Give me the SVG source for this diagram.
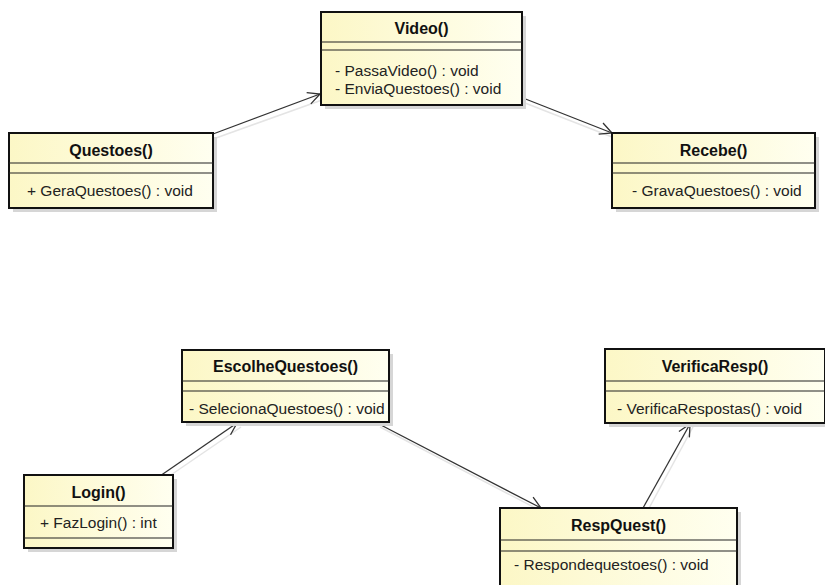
<svg xmlns="http://www.w3.org/2000/svg" width="825" height="585" viewBox="0 0 825 585">
<defs>
<linearGradient id="fill" x1="0" y1="0" x2="1" y2="0">
<stop offset="0" stop-color="#fcf7c6"/>
<stop offset="1" stop-color="#fffff0"/>
</linearGradient>
<marker id="arr" viewBox="0 0 14 14" refX="13" refY="7" markerWidth="14" markerHeight="14" markerUnits="userSpaceOnUse" orient="auto">
<path d="M1,1 L13,7 L1,13" fill="none" stroke="#333" stroke-width="1.3"/>
</marker>
</defs>
<style>
.box{fill:url(#fill);stroke:#111;stroke-width:2}
.sh{fill:#d6d6d6}
.div{stroke:#222;stroke-width:1.2}
.t{font-family:"Liberation Sans",Arial,sans-serif;font-size:16px;font-weight:bold;fill:#111;text-anchor:middle}
.m{font-family:"Liberation Sans",Arial,sans-serif;font-size:15.5px;fill:#222}
.c{stroke:#333;stroke-width:1.3;fill:none;marker-end:url(#arr)}
.cs{stroke:#e4e4e4;stroke-width:1.5;fill:none}
</style>
<rect width="825" height="585" fill="#fff"/>
<g id="connectors">
<line class="cs" x1="216" y1="138" x2="322" y2="100"/>
<line class="cs" x1="525" y1="103" x2="612" y2="137"/>
<line class="cs" x1="165" y1="479" x2="241" y2="427"/>
<line class="cs" x1="380" y1="427" x2="543" y2="512"/>
<line class="cs" x1="648" y1="510" x2="693" y2="427"/>
<line class="c" x1="213" y1="134" x2="320" y2="94"/>
<line class="c" x1="523" y1="98" x2="612" y2="133"/>
<line class="c" x1="160" y1="476" x2="237" y2="423"/>
<line class="c" x1="377" y1="423" x2="541" y2="508"/>
<line class="c" x1="643" y1="508" x2="690" y2="424"/>
</g>
<g id="video">
<rect class="sh" x="325" y="16" width="201" height="93"/>
<rect class="box" x="321" y="12" width="201" height="93"/>
<line class="div" x1="321" y1="42" x2="522" y2="42"/>
<line class="div" x1="321" y1="50" x2="522" y2="50"/>
<text class="t" x="421.5" y="34">Video()</text>
<text class="m" x="335" y="76">- PassaVideo() : void</text>
<text class="m" x="335" y="94">- EnviaQuestoes() : void</text>
</g>
<g id="questoes">
<rect class="sh" x="13" y="137" width="204" height="75"/>
<rect class="box" x="9" y="133" width="204" height="75"/>
<line class="div" x1="9" y1="163" x2="213" y2="163"/>
<line class="div" x1="9" y1="173" x2="213" y2="173"/>
<text class="t" x="111" y="156">Questoes()</text>
<text class="m" x="27" y="196">+ GeraQuestoes() : void</text>
</g>
<g id="recebe">
<rect class="sh" x="616" y="137" width="203" height="75"/>
<rect class="box" x="612" y="133" width="203" height="75"/>
<line class="div" x1="612" y1="163" x2="815" y2="163"/>
<line class="div" x1="612" y1="173" x2="815" y2="173"/>
<text class="t" x="713.5" y="156">Recebe()</text>
<text class="m" x="632" y="196">- GravaQuestoes() : void</text>
</g>
<g id="escolhequestoes">
<rect class="sh" x="186" y="354" width="207" height="72"/>
<rect class="box" x="182" y="350" width="207" height="72"/>
<line class="div" x1="182" y1="381" x2="389" y2="381"/>
<line class="div" x1="182" y1="391" x2="389" y2="391"/>
<text class="t" x="285.5" y="372">EscolheQuestoes()</text>
<text class="m" x="189" y="414">- SelecionaQuestoes() : void</text>
</g>
<g id="verificaresp">
<rect class="sh" x="609" y="353" width="220" height="74"/>
<rect class="box" x="605" y="349" width="220" height="74"/>
<line class="div" x1="605" y1="381" x2="825" y2="381"/>
<line class="div" x1="605" y1="391" x2="825" y2="391"/>
<text class="t" x="715" y="372">VerificaResp()</text>
<text class="m" x="617" y="414">- VerificaRespostas() : void</text>
</g>
<g id="login">
<rect class="sh" x="28" y="479" width="149" height="73"/>
<rect class="box" x="24" y="475" width="149" height="73"/>
<line class="div" x1="24" y1="506" x2="173" y2="506"/>
<line class="div" x1="24" y1="538" x2="173" y2="538"/>
<text class="t" x="98.5" y="498">Login()</text>
<text class="m" x="40" y="528">+ FazLogin() : int</text>
</g>
<g id="respquest">
<rect class="sh" x="504" y="512" width="237" height="80"/>
<rect class="box" x="500" y="508" width="237" height="80"/>
<line class="div" x1="500" y1="540" x2="737" y2="540"/>
<line class="div" x1="500" y1="551" x2="737" y2="551"/>
<text class="t" x="618.5" y="531">RespQuest()</text>
<text class="m" x="514" y="570">- Respondequestoes() : void</text>
</g>
</svg>
